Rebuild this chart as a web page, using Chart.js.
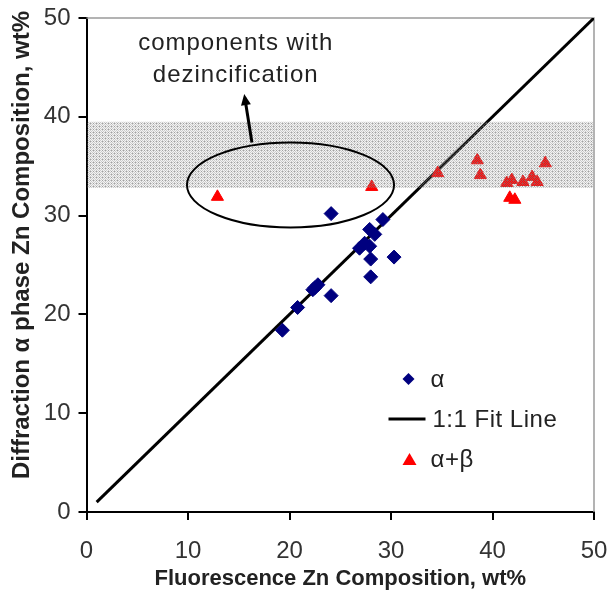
<!DOCTYPE html>
<html>
<head>
<meta charset="utf-8">
<script src="https://cdn.jsdelivr.net/npm/chart.js@4"></script>
<style>
    html, body { margin: 0; padding: 0; background: #fff; }
    #wrap { width: 611px; height: 592px; }
</style>
</head>
<body>
<div id="wrap"><canvas id="chart" width="611" height="592"></canvas></div>
<script>
// values
const alphaX = [19.3, 20.8, 22.3, 22.8, 22.5, 24.1, 24.1, 26.9, 27.4, 27.9, 28.0, 28.0, 28.4, 27.9, 29.2, 30.3];
const alphaY = [18.4, 20.7, 22.5, 23.0, 22.7, 21.9, 30.2, 26.7, 27.2, 26.9, 25.6, 23.8, 28.1, 28.6, 29.6, 25.8];
const betaX = [12.9, 28.1, 34.6, 38.5, 38.8, 41.4, 41.9, 43.0, 43.9, 44.4, 45.2, 41.7, 42.2];
const betaY = [31.9, 32.9, 34.3, 35.6, 34.1, 33.3, 33.6, 33.4, 33.9, 33.4, 35.3, 31.8, 31.6];
const fitX = [1, 50];
const fitY = [1, 50];
const xTicks = [0, 10, 20, 30, 40, 50];
const yTicks = [0, 10, 20, 30, 40, 50];
const band = [32.8, 39.5];
const legendLabels = ['\u03b1', '1:1 Fit Line', '\u03b1+\u03b2'];
const noteLines = ['components with', 'dezincification'];
const xTitle = 'Fluorescence Zn Composition, wt%';
const yTitle = 'Diffraction \u03b1 phase Zn Composition, wt%';

const toPts = (xs, ys) => xs.map((x, i) => ({ x: x, y: ys[i] }));
const FAMILY = '"Liberation Sans", Arial, sans-serif';

// dotted grey fill for the band (see-through so the marks under it still show)
function makePattern(ctx) {
    const c = document.createElement('canvas');
    c.width = 6; c.height = 6;
    const p = c.getContext('2d');
    for (let i = 0; i < 6; i++) {
        for (let j = 0; j < 6; j++) {
            if (i % 3 === 0 && j % 3 === 0) p.fillStyle = 'rgba(120,120,120,0.7)';
            else if ((i + j) % 2 === 0) p.fillStyle = 'rgba(140,140,140,0.45)';
            else p.fillStyle = 'rgba(140,140,140,0.1)';
            p.fillRect(i, j, 1, 1);
        }
    }
    return ctx.createPattern(c, 'repeat');
}

const extras = {
    id: 'extras',
    beforeDatasetsDraw(chart) {
        const ctx = chart.ctx;
        const a = chart.chartArea;
        ctx.save();
        ctx.strokeStyle = '#9a9a9a';
        ctx.lineWidth = 1.5;
        ctx.beginPath();
        ctx.moveTo(a.left, a.top);
        ctx.lineTo(a.right, a.top);
        ctx.lineTo(a.right, a.bottom);
        ctx.stroke();
        ctx.restore();
    },
    afterDatasetsDraw(chart) {
        const ctx = chart.ctx;
        const xs = chart.scales.x, ys = chart.scales.y;
        const a = chart.chartArea;
        ctx.save();
        // shaded band, drawn over the marks
        const top = ys.getPixelForValue(band[1]);
        const bot = ys.getPixelForValue(band[0]);
        ctx.fillStyle = makePattern(ctx);
        ctx.fillRect(a.left + 1, top, a.right - a.left - 2, bot - top);

        // ellipse round the dezincified components
        const cx = xs.getPixelForValue(20.1), cy = ys.getPixelForValue(33.1);
        const rx = xs.getPixelForValue(30.3) - cx, ry = cy - ys.getPixelForValue(37.4);
        ctx.strokeStyle = '#000';
        ctx.lineWidth = 2;
        ctx.beginPath();
        ctx.ellipse(cx, cy, rx, ry, 0, 0, Math.PI * 2);
        ctx.stroke();

        // arrow
        const x0 = xs.getPixelForValue(16.3), y0 = ys.getPixelForValue(37.4);
        const x1 = xs.getPixelForValue(15.6), y1 = ys.getPixelForValue(41.9);
        ctx.lineWidth = 3;
        ctx.beginPath();
        ctx.moveTo(x0, y0);
        ctx.lineTo(x1, y1);
        ctx.stroke();
        const ang = Math.atan2(y1 - y0, x1 - x0);
        ctx.fillStyle = '#000';
        ctx.beginPath();
        ctx.moveTo(x1 + 4 * Math.cos(ang), y1 + 4 * Math.sin(ang));
        ctx.lineTo(x1 - 7 * Math.cos(ang) + 5 * Math.sin(ang), y1 - 7 * Math.sin(ang) - 5 * Math.cos(ang));
        ctx.lineTo(x1 - 7 * Math.cos(ang) - 5 * Math.sin(ang), y1 - 7 * Math.sin(ang) + 5 * Math.cos(ang));
        ctx.closePath();
        ctx.fill();

        // note text
        ctx.font = '24px ' + FAMILY;
        ctx.fillStyle = '#222';
        ctx.textAlign = 'center';
        ctx.textBaseline = 'middle';
        ctx.letterSpacing = '1px';
        ctx.fillText(noteLines[0], xs.getPixelForValue(14.7), ys.getPixelForValue(47.4));
        ctx.fillText(noteLines[1], xs.getPixelForValue(14.7), ys.getPixelForValue(44.2));

        // legend inside the plot
        const lx = a.left + 322, ly = a.top + 361;
        const ds = chart.data.datasets;
        ctx.textAlign = 'left';
        ctx.font = '24px ' + FAMILY;
        ctx.letterSpacing = '0.5px';
        // alpha diamond
        ctx.fillStyle = ds[0].backgroundColor;
        ctx.beginPath();
        ctx.moveTo(lx, ly - 6); ctx.lineTo(lx + 6, ly); ctx.lineTo(lx, ly + 6); ctx.lineTo(lx - 6, ly);
        ctx.closePath(); ctx.fill();
        ctx.fillStyle = '#222';
        ctx.fillText(legendLabels[0], lx + 22, ly + 1);
        // fit line
        ctx.strokeStyle = ds[1].borderColor;
        ctx.lineWidth = 3;
        ctx.beginPath();
        ctx.moveTo(lx - 20, ly + 40); ctx.lineTo(lx + 17, ly + 40);
        ctx.stroke();
        ctx.fillText(legendLabels[1], lx + 24, ly + 41);
        // alpha+beta triangle
        ctx.fillStyle = ds[2].backgroundColor;
        ctx.beginPath();
        ctx.moveTo(lx + 1, ly + 74); ctx.lineTo(lx + 8, ly + 86); ctx.lineTo(lx - 6, ly + 86);
        ctx.closePath(); ctx.fill();
        ctx.fillStyle = '#222';
        ctx.fillText(legendLabels[2], lx + 22, ly + 81);

        // y axis title
        ctx.letterSpacing = '0px';
        ctx.font = 'bold 24px ' + FAMILY;
        ctx.textAlign = 'center';
        ctx.translate(22, 245);
        ctx.rotate(-Math.PI / 2);
        ctx.fillText(yTitle, 0, 0);
        ctx.restore();
    }
};

const tickFont = { family: FAMILY, size: 24 };

new Chart(document.getElementById('chart').getContext('2d'), {
    type: 'scatter',
    data: {
        datasets: [
            {
                label: legendLabels[0],
                data: toPts(alphaX, alphaY),
                backgroundColor: '#00007f',
                borderColor: '#00007f',
                pointStyle: 'rectRot',
                pointRadius: 7,
                order: 2
            },
            {
                label: legendLabels[1],
                type: 'line',
                data: toPts(fitX, fitY),
                borderColor: '#000',
                borderWidth: 3,
                pointRadius: 0,
                fill: false,
                order: 3
            },
            {
                label: legendLabels[2],
                data: toPts(betaX, betaY),
                backgroundColor: '#ff0000',
                borderColor: '#ff0000',
                pointStyle: 'triangle',
                pointRadius: 7,
                order: 1
            }
        ]
    },
    options: {
        responsive: false,
        animation: false,
        layout: { padding: { left: 0, top: 18, right: 17, bottom: 0 } },
        plugins: {
            legend: { display: false },
            tooltip: { enabled: false }
        },
        scales: {
            x: {
                type: 'linear',
                min: 0,
                max: 50,
                afterBuildTicks: s => { s.ticks = xTicks.map(v => ({ value: v })); },
                afterFit: s => { s.height = 80; s.paddingLeft = 0; s.paddingRight = 0; },
                grid: { drawOnChartArea: false, drawTicks: true, tickLength: 8, color: '#000', lineWidth: 2 },
                border: { color: '#000', width: 2 },
                ticks: { font: tickFont, color: '#333', padding: 17, maxRotation: 0 },
                title: { display: true, text: xTitle, font: { family: FAMILY, size: 22, weight: 'bold' }, color: '#222', padding: { top: 0, bottom: 0 } }
            },
            y: {
                type: 'linear',
                min: 0,
                max: 50,
                afterBuildTicks: s => { s.ticks = yTicks.map(v => ({ value: v })); },
                afterFit: s => { s.width = 86.5; s.paddingTop = 0; s.paddingBottom = 0; },
                grid: { drawOnChartArea: false, drawTicks: true, tickLength: 8, color: '#000', lineWidth: 2 },
                border: { color: '#000', width: 2 },
                ticks: { font: tickFont, color: '#333', padding: 8 },
                title: { display: false }
            }
        }
    },
    plugins: [extras]
});
</script>
</body>
</html>
